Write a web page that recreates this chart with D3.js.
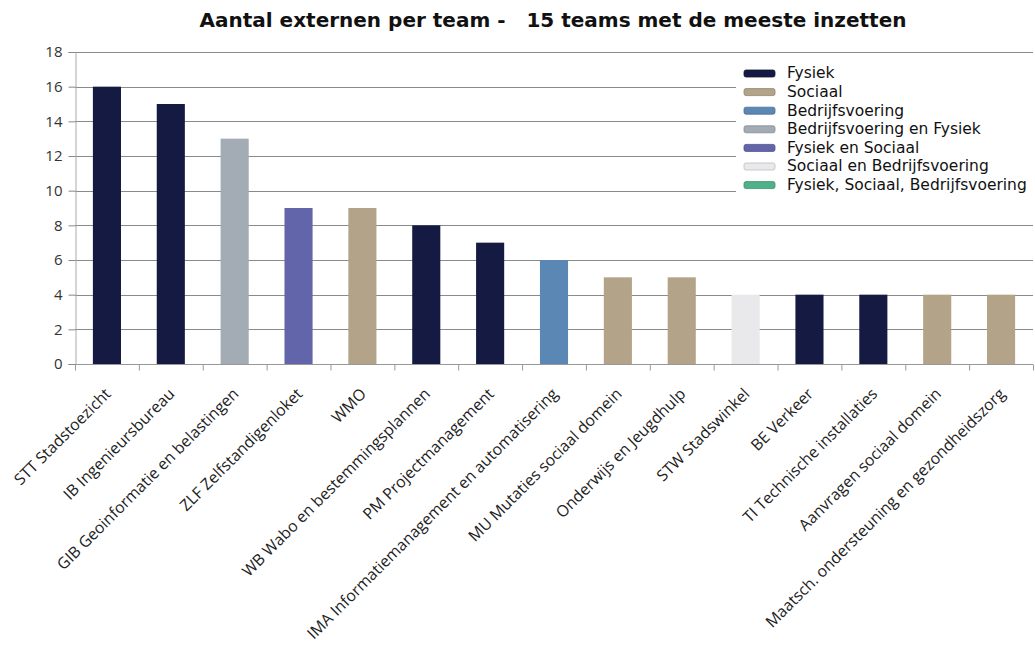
<!DOCTYPE html>
<html>
<head>
<meta charset="utf-8">
<script src="https://cdn.jsdelivr.net/npm/d3@7"></script>
<style>
  body { margin: 0; background: #fff; }
  #graf { width: 1035px; height: 646px; }
</style>
</head>
<body>
<div id="graf"></div>
<script>
const teams = [
  "STT Stadstoezicht", "IB Ingenieursbureau", "GIB Geoinformatie en belastingen",
  "ZLF Zelfstandigenloket", "WMO", "WB Wabo en bestemmingsplannen",
  "PM Projectmanagement", "IMA Informatiemanagement en automatisering",
  "MU Mutaties sociaal domein", "Onderwijs en Jeugdhulp", "STW Stadswinkel",
  "BE Verkeer", "TI Technische installaties", "Aanvragen sociaal domein",
  "Maatsch. ondersteuning en gezondheidszorg",
]
const aantallen = [16, 15, 13, 9, 9, 8, 7, 6, 5, 5, 4, 4, 4, 4, 4]
const domeinen = [
  "Fysiek", "Fysiek", "Bedrijfsvoering en Fysiek", "Fysiek en Sociaal", "Sociaal",
  "Fysiek", "Fysiek", "Bedrijfsvoering", "Sociaal", "Sociaal",
  "Sociaal en Bedrijfsvoering", "Fysiek", "Fysiek", "Sociaal", "Sociaal",
]
const legenda = [
  "Fysiek", "Sociaal", "Bedrijfsvoering", "Bedrijfsvoering en Fysiek",
  "Fysiek en Sociaal", "Sociaal en Bedrijfsvoering", "Fysiek, Sociaal, Bedrijfsvoering",
]
const kleuren = ["#141a42", "#b3a388", "#5b87b5", "#a3acb4", "#6365aa", "#e9e9ec", "#4fb189"]
const yTicks = [0, 2, 4, 6, 8, 10, 12, 14, 16, 18]

const data = teams.map((t, i) => ({ team: t, aantal: aantallen[i], domein: domeinen[i] }))

const ancho = 1035
const alto = 646
const m = { top: 52, right: 2, bottom: 282, left: 75 }

const svg = d3.select("#graf")
  .append("svg")
  .attr("width", ancho)
  .attr("height", alto)

const x = d3.scaleBand()
  .domain(teams)
  .range([m.left, ancho - m.right])
  .paddingInner(0.56)
  .paddingOuter(0.28)

const y = d3.scaleLinear()
  .domain([0, 18])
  .range([alto - m.bottom, m.top])

const color = d3.scaleOrdinal().domain(legenda).range(kleuren)

// titel
svg.append("text")
  .attr("x", 553)
  .attr("y", 27)
  .attr("text-anchor", "middle")
  .style("white-space", "pre")
  .style("font-family", "'DejaVu Sans', sans-serif")
  .style("font-weight", "bold")
  .style("font-size", "20px")
  .attr("fill", "#111")
  .text("Aantal externen per team -   15 teams met de meeste inzetten")

// rasterlijnen
svg.append("g")
  .selectAll("line")
  .data(yTicks)
  .join("line")
  .attr("x1", m.left)
  .attr("x2", ancho - m.right)
  .attr("y1", (d) => Math.round(y(d)) + 0.5)
  .attr("y2", (d) => Math.round(y(d)) + 0.5)
  .attr("stroke", (d) => (d === 0 ? "#999" : "#8a8a8a"))
  .attr("stroke-width", 1)

// y-as
const yAxis = svg.append("g")
  .attr("transform", `translate(${m.left + 0.5},0)`)
  .call(d3.axisLeft(y).tickValues(yTicks).tickSize(7).tickPadding(6))
yAxis.select(".domain").attr("stroke", "#aaa")
yAxis.selectAll(".tick line").attr("stroke", "#888")
yAxis.selectAll("text")
  .style("font-family", "'Open Sans', sans-serif")
  .style("font-size", "15px")
  .attr("fill", "#333")

// x-as
const step = x.step()
const xAxis = svg.append("g")
  .attr("transform", `translate(0,${Math.round(y(0)) + 0.5})`)
xAxis.append("line")
  .attr("x1", m.left).attr("x2", ancho - m.right)
  .attr("stroke", "#999")
xAxis.selectAll(".tk")
  .data(d3.range(teams.length + 1))
  .join("line")
  .attr("class", "tk")
  .attr("x1", (i) => m.left + 0.5 + i * step)
  .attr("x2", (i) => m.left + 0.5 + i * step)
  .attr("y1", 0).attr("y2", 6)
  .attr("stroke", "#999")

// staven
svg.append("g")
  .selectAll("rect")
  .data(data)
  .join("rect")
  .attr("x", (d) => x(d.team))
  .attr("y", (d) => y(d.aantal))
  .attr("width", x.bandwidth())
  .attr("height", (d) => y(0) - y(d.aantal))
  .attr("fill", (d) => color(d.domein))

// categorielabels
svg.append("g")
  .selectAll("text")
  .data(data)
  .join("text")
  .attr("transform", (d) => `translate(${x(d.team) + x.bandwidth() / 2 + 1},${y(0) + 27}) rotate(-45)`)
  .attr("text-anchor", "end")
  .attr("dy", "0.35em")
  .style("font-family", "'Open Sans', sans-serif")
  .style("font-size", "15.8px")
  .attr("fill", "#222")
  .text((d) => d.team)

// legenda
const leg = svg.append("g").attr("transform", "translate(736,60)")
leg.append("rect")
  .attr("width", 299).attr("height", 142)
  .attr("fill", "#fff")
const item = leg.selectAll(".item")
  .data(legenda)
  .join("g")
  .attr("class", "item")
  .attr("transform", (d, i) => `translate(0,${13 + i * 18.6})`)
item.append("rect")
  .attr("x", 8).attr("y", -3)
  .attr("width", 31).attr("height", 7)
  .attr("rx", 2)
  .attr("fill", (d) => color(d))
  .attr("stroke", (d) => d3.color(color(d)).darker(0.6))
  .attr("stroke-width", 0.8)
item.append("text")
  .attr("x", 51)
  .attr("dy", "0.35em")
  .style("font-family", "'DejaVu Sans', sans-serif")
  .style("font-size", "15.5px")
  .attr("fill", "#111")
  .text((d) => d)
</script>
</body>
</html>
